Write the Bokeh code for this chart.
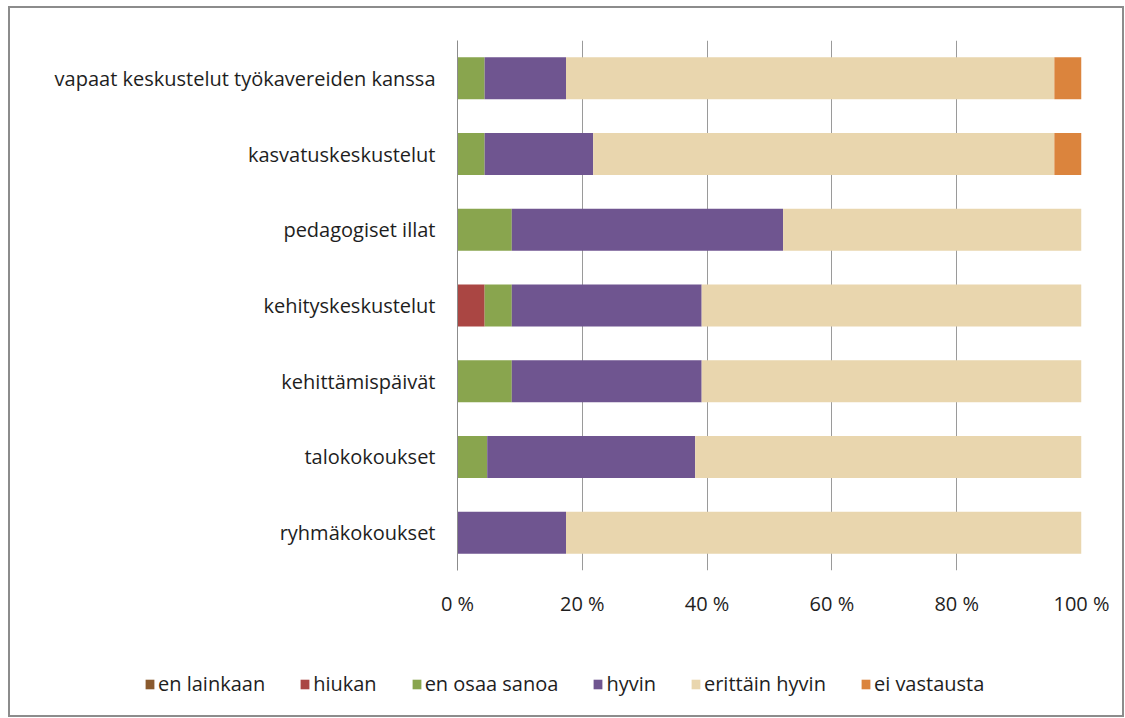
from bokeh.plotting import figure
from bokeh.models import FactorRange, Range1d, FixedTicker, Legend, LegendItem, Spacer
from bokeh.layouts import column, row
from bokeh.embed import file_html
from bokeh.resources import INLINE

# ---- data (percent of respondents) ----
categories = [
    "ryhmäkokoukset",
    "talokokoukset",
    "kehittämispäivät",
    "kehityskeskustelut",
    "pedagogiset illat",
    "kasvatuskeskustelut",
    "vapaat keskustelut työkavereiden kanssa",
]
series_names = ["en lainkaan", "hiukan", "en osaa sanoa", "hyvin", "erittäin hyvin", "ei vastausta"]
en_lainkaan = [0, 0, 0, 0, 0, 0, 0]
hiukan = [0, 0, 0, 4.35, 0, 0, 0]
en_osaa_sanoa = [0, 4.76, 8.70, 4.35, 8.70, 4.35, 4.35]
hyvin = [17.39, 33.33, 30.43, 30.43, 43.48, 17.39, 13.04]
erittain_hyvin = [82.61, 61.91, 60.87, 60.87, 47.82, 73.91, 78.26]
ei_vastausta = [0, 0, 0, 0, 0, 4.35, 4.35]
tick_values = [0, 20, 40, 60, 80, 100]
tick_labels = ["0 %", "20 %", "40 %", "60 %", "80 %", "100 %"]

colors = ["#8a5a2e", "#aa4643", "#89a54e", "#6f5590", "#e9d6ae", "#db843d"]
FONT = "Open Sans"
TEXT_COLOR = "#1e1e1e"
BORDER = "#8c8c8c"

data = {"cat": categories,
        "en lainkaan": en_lainkaan, "hiukan": hiukan, "en osaa sanoa": en_osaa_sanoa,
        "hyvin": hyvin, "erittäin hyvin": erittain_hyvin, "ei vastausta": ei_vastausta}

# ---- main chart ----
p = figure(width=1116, height=620, y_range=FactorRange(*categories),
           x_range=Range1d(0, 100), output_backend="svg", toolbar_location=None,
           min_border_left=449, min_border_right=43, min_border_top=34, min_border_bottom=56)
p.y_range.factor_padding = 0
p.y_range.range_padding = 0

p.hbar_stack(series_names, y="cat", height=0.555, color=colors, source=data, line_color=None)

p.outline_line_color = None
p.border_fill_color = None
p.background_fill_color = "white"
p.styles = {"box-shadow": f"inset 2px 2px 0 {BORDER}, inset -2px 0 0 {BORDER}"}

p.xaxis.ticker = FixedTicker(ticks=tick_values)
p.xaxis.major_label_overrides = {v: l for v, l in zip(tick_values, tick_labels)}
p.xaxis.axis_line_color = None
p.xaxis.major_tick_line_color = None
p.xaxis.minor_tick_line_color = None
p.xaxis.major_label_standoff = 13
p.xaxis.major_label_text_font = FONT
p.xaxis.major_label_text_font_size = "20px"
p.xaxis.major_label_text_color = TEXT_COLOR

p.yaxis.axis_line_color = BORDER
p.yaxis.major_tick_line_color = None
p.yaxis.minor_tick_line_color = None
p.yaxis.major_label_standoff = 16
p.yaxis.major_label_text_font = FONT
p.yaxis.major_label_text_font_size = "20px"
p.yaxis.major_label_text_color = TEXT_COLOR

p.xgrid.grid_line_color = "#9a9a9a"
p.ygrid.grid_line_color = None

# ---- legend strip (its bar renderers are hidden; only the legend shows) ----
lf = figure(width=1116, height=91, y_range=FactorRange(*categories), x_range=Range1d(0, 100),
            output_backend="svg", toolbar_location=None,
            min_border_left=0, min_border_right=0, min_border_top=0, min_border_bottom=0)
lf.axis.visible = False
lf.grid.visible = False
lf.outline_line_color = None
lf.border_fill_color = None
lf.background_fill_color = None
lf.styles = {"box-shadow": f"inset 2px -2px 0 {BORDER}, inset -2px 0 0 {BORDER}"}
lrs = lf.hbar_stack(series_names, y="cat", height=0.555, color=colors, source=data, line_color=None)
for r in lrs:
    r.visible = False
items = [LegendItem(label=n, renderers=[r]) for n, r in zip(series_names, lrs)]
legend = Legend(items=items, orientation="horizontal", location=(136, 20),
                label_text_font=FONT, label_text_font_size="20px", label_text_color=TEXT_COLOR,
                glyph_width=11, glyph_height=12, label_standoff=3, spacing=34,
                padding=0, margin=0, border_line_color=None, background_fill_alpha=0,
                inactive_fill_alpha=0)
lf.add_layout(legend, "center")

main = row(Spacer(width=8, height=10), column(Spacer(width=10, height=6), p, spacing=0), spacing=0)
leg = row(Spacer(width=8, height=10), lf, spacing=0)

open("out.html", "w").write(file_html([main, leg], INLINE))
